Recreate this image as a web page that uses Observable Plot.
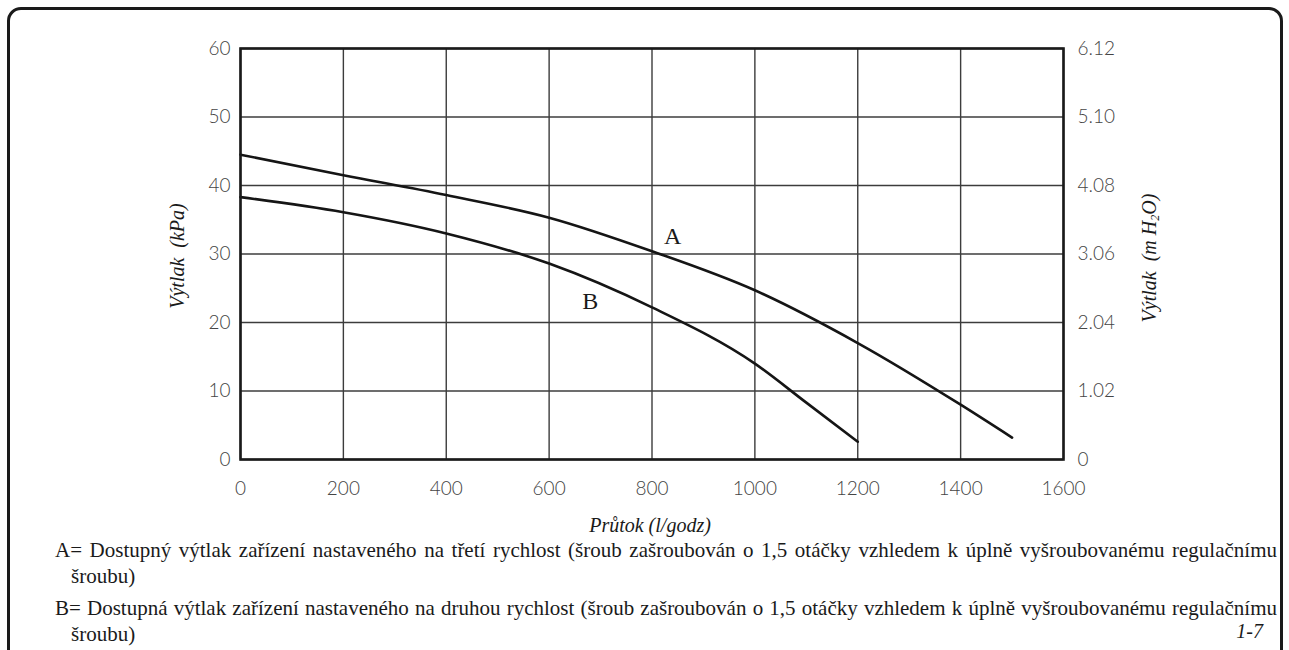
<!DOCTYPE html>
<html>
<head>
<meta charset="utf-8">
<script src="https://cdn.jsdelivr.net/npm/d3@7"></script>
<script src="https://cdn.jsdelivr.net/npm/@observablehq/plot@0.6"></script>
<style>
  html, body { margin: 0; padding: 0; background: #fff; }
  #wrap { position: relative; width: 1289px; height: 650px; overflow: hidden; background: #fff; }
  #border { position: absolute; left: 7px; top: 7px; width: 1276px; height: 700px; border: 3px solid #1a1a1a; border-radius: 14px; box-sizing: border-box; }
  #chart { position: absolute; left: 0; top: 0; }
  #wrap .ytitle, #wrap .xtitle, #wrap .cap, #wrap .pg { font-family: "Liberation Serif", "Times New Roman", Times, serif; color: #1a1a1a; }
  .ytitle { position: absolute; font-size: 20px; font-style: italic; line-height: 1; white-space: nowrap; transform: translate(-50%, -50%) rotate(-90deg); }
  .xtitle { position: absolute; font-size: 20px; font-style: italic; line-height: 1; white-space: nowrap; transform: translate(-50%, 0); }
  .cap { position: absolute; left: 55px; width: 1222px; font-size: 21px; line-height: 26px; }
  .cap .l1 { text-align: justify; text-align-last: justify; white-space: normal; }
  .cap .l2 { padding-left: 16px; }
  .pg { position: absolute; right: 26px; font-size: 20px; line-height: 26px; font-style: italic; }
  sub { font-size: 60%; vertical-align: -0.25em; }
</style>
</head>
<body>
<div id="wrap">
  <div id="border"></div>
  <div id="chart"></div>
</div>
<script>
// ---- data ----
const xTicks = [0, 200, 400, 600, 800, 1000, 1200, 1400, 1600];
const yTicks = [0, 10, 20, 30, 40, 50, 60];
const rightTickLabels = ["0", "1.02", "2.04", "3.06", "4.08", "5.10", "6.12"];

const flowA = [0, 200, 400, 600, 800, 1000, 1200, 1400, 1500];
const headA = [44.5, 41.5, 38.6, 35.3, 30.4, 24.7, 17.0, 8.0, 3.2];

const flowB = [0, 200, 400, 600, 800, 1000, 1100, 1200];
const headB = [38.3, 36.1, 33.0, 28.6, 22.2, 14.0, 8.3, 2.6];

const curveLabels = ["A", "B"];
const labelFlow = [840, 680];
const labelHead = [31.5, 22.0];

const xTitle = "Průtok (l/godz)";
const yTitleLeft = "Výtlak\u00a0\u00a0(kPa)";
const captionA1 = "A= Dostupný výtlak zařízení nastaveného na třetí rychlost (šroub zašroubován o 1,5 otáčky vzhledem k úplně vyšroubovanému regulačnímu";
const captionA2 = "šroubu)";
const captionB1 = "B= Dostupná výtlak zařízení nastaveného na druhou rychlost (šroub zašroubován o 1,5 otáčky vzhledem k úplně vyšroubovanému regulačnímu";
const captionB2 = "šroubu)";
const pageNo = "1-7";

// ---- build tables ----
const dataA = flowA.map((x, i) => ({x, y: headA[i]}));
const dataB = flowB.map((x, i) => ({x, y: headB[i]}));
const labels = curveLabels.map((t, i) => ({t, x: labelFlow[i], y: labelHead[i]}));

const gridStyle = {stroke: "#3c3c3c", strokeOpacity: 1, strokeWidth: 1.4};
const lineStyle = {x: "x", y: "y", curve: "monotone-x", stroke: "#151515", strokeWidth: 2.6};

const chart = Plot.plot({
  width: 1289,
  height: 540,
  marginLeft: 240,
  marginRight: 226,
  marginTop: 48,
  marginBottom: 81,
  x: {domain: [0, 1600]},
  y: {domain: [0, 60]},
  style: {fontFamily: "Lato, 'DejaVu Sans', sans-serif", fontSize: "19px", fontWeight: 300, color: "#444", background: "transparent"},
  marks: [
    Plot.gridX(xTicks, gridStyle),
    Plot.gridY(yTicks, gridStyle),
    Plot.axisX(xTicks, {tickSize: 0, tickPadding: 22, label: null, tickFormat: d => String(d)}),
    Plot.axisY(yTicks, {anchor: "left", tickSize: 0, tickPadding: 10, label: null, tickFormat: d => String(d)}),
    Plot.axisY(yTicks, {anchor: "right", tickSize: 0, tickPadding: 14, label: null,
      tickFormat: d => rightTickLabels[yTicks.indexOf(d)]}),
    Plot.line(dataA, lineStyle),
    Plot.line(dataB, lineStyle),
    Plot.text(labels, {x: "x", y: "y", text: "t", lineAnchor: "bottom", fontSize: 24,
      fontFamily: "'Liberation Serif', serif", fill: "#1a1a1a", fontWeight: 400}),
    Plot.frame({stroke: "#1a1a1a", strokeWidth: 2.6})
  ]
});
document.getElementById("chart").appendChild(chart);

// ---- HTML titles / captions ----
const wrap = document.getElementById("wrap");
const SERIF = "'Liberation Serif', 'Times New Roman', Times, serif";
function add(cls, html, css) {
  const d = document.createElement("div");
  d.className = cls;
  d.innerHTML = html;
  d.style.fontFamily = SERIF;
  Object.assign(d.style, css);
  wrap.appendChild(d);
  return d;
}
add("ytitle", yTitleLeft, {left: "177px", top: "256px"});
add("ytitle", "Výtlak&nbsp;&nbsp;(m H<sub>2</sub>O)", {left: "1150px", top: "258px"});
add("xtitle", xTitle, {left: "650px", top: "515px"});
add("cap", `<div class="l1">${captionA1}</div><div class="l2">${captionA2}</div>`, {top: "537px"});
add("cap", `<div class="l1">${captionB1}</div><div class="l2">${captionB2}</div>`, {top: "595px"});
add("pg", pageNo, {top: "618px"});
</script>
</body>
</html>
